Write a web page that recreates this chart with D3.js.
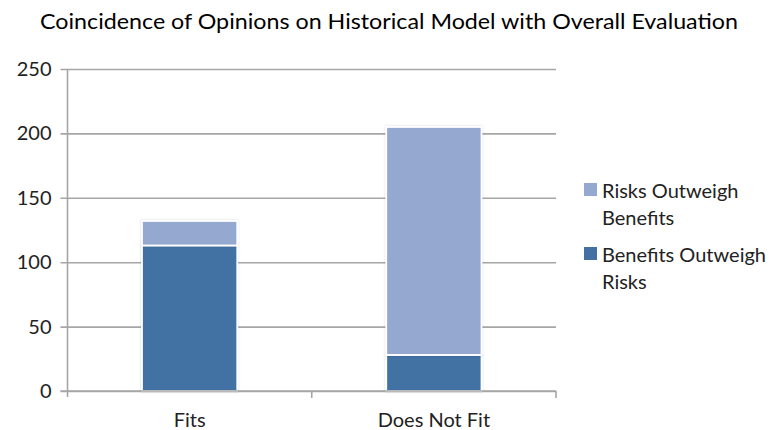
<!DOCTYPE html>
<html>
<head>
<meta charset="utf-8">
<script src="https://cdn.jsdelivr.net/npm/d3@7"></script>
<style>
  html, body { margin: 0; padding: 0; background: #fff; }
  svg { display: block; font-family: Lato, "Open Sans", sans-serif; }
</style>
</head>
<body>
<svg id="chart" width="781" height="430"></svg>
<script>
// Survey results: how opinions on the historical model line up with the overall evaluation
const categories = ["Fits", "Does Not Fit"];
const benefitsOutweighRisks = [113, 28];
const risksOutweighBenefits = [19, 177];
const seriesNames = ["Benefits Outweigh Risks", "Risks Outweigh Benefits"];
const yTicks = [0, 50, 100, 150, 200, 250];
const title = "Coincidence of Opinions on Historical Model with Overall Evaluation";

const colors = { "Benefits Outweigh Risks": "#4371a4", "Risks Outweigh Benefits": "#94a8d0" };

const svg = d3.select("#chart");
const margin = { left: 67.5, right: 225, top: 69, bottom: 39 };
const W = 781, H = 430;

const x = d3.scaleBand().domain(categories).range([margin.left, W - margin.right])
  .paddingInner(0.61).paddingOuter(0.305);
const y = d3.scaleLinear().domain([0, 250]).range([H - margin.bottom, margin.top]);

const rows = categories.map((c, i) => ({
  category: c,
  "Benefits Outweigh Risks": benefitsOutweighRisks[i],
  "Risks Outweigh Benefits": risksOutweighBenefits[i]
}));
const stacked = d3.stack().keys(seriesNames)(rows);

// Shadow filter under the bars
const defs = svg.append("defs");
const f = defs.append("filter").attr("id", "shadow").attr("x", "-10%").attr("y", "-10%").attr("width", "120%").attr("height", "120%");
f.append("feDropShadow").attr("dx", 0).attr("dy", 0).attr("stdDeviation", 1.2)
  .attr("flood-color", "#000").attr("flood-opacity", 0.18);

// Title
svg.append("text")
  .attr("x", 389).attr("y", 29)
  .attr("text-anchor", "middle")
  .attr("font-size", 21.5)
  .attr("fill", "#000")
  .attr("textLength", 698).attr("lengthAdjust", "spacingAndGlyphs")
  .text(title);

// Horizontal gridlines
const yAxis = d3.axisLeft(y).tickValues(yTicks).tickSize(-(W - margin.right - margin.left)).tickPadding(16);
const gy = svg.append("g").attr("transform", `translate(${margin.left},0)`).call(yAxis);
gy.select(".domain").remove();
gy.selectAll(".tick line").attr("stroke", "#a6a6a6").attr("stroke-width", 1.6).attr("x1", -7);
gy.selectAll(".tick text").attr("font-size", 20).attr("fill", "#222").attr("font-family", "Lato, sans-serif");

// Vertical axis line
svg.append("line")
  .attr("x1", margin.left).attr("x2", margin.left)
  .attr("y1", y(250)).attr("y2", y(0) + 6)
  .attr("stroke", "#a6a6a6").attr("stroke-width", 1.6);

// Stacked bars
const layers = svg.append("g").selectAll("g").data(stacked).join("g")
  .attr("fill", d => colors[d.key]);
layers.selectAll("rect").data(d => d).join("rect")
  .attr("x", d => x(d.data.category))
  .attr("width", x.bandwidth())
  .attr("y", d => y(d[1]))
  .attr("height", d => y(d[0]) - y(d[1]))
  .attr("stroke", "#fff").attr("stroke-width", 1.8)
  .attr("filter", "url(#shadow)");

// Category axis
const xAxisG = svg.append("g").attr("transform", `translate(0,${y(0)})`);
xAxisG.append("line")
  .attr("x1", margin.left - 7).attr("x2", W - margin.right)
  .attr("stroke", "#a6a6a6").attr("stroke-width", 1.6);
const bounds = [x.range()[0], x(categories[1]) - x.step() * x.paddingInner() / 2, x.range()[1]];
xAxisG.selectAll("line.sep").data(bounds.slice(1)).join("line").attr("class", "sep")
  .attr("x1", d => d).attr("x2", d => d).attr("y1", 0).attr("y2", 7)
  .attr("stroke", "#a6a6a6").attr("stroke-width", 1.6);
xAxisG.selectAll("text").data(categories).join("text")
  .attr("x", d => x(d) + x.bandwidth() / 2)
  .attr("y", 36)
  .attr("text-anchor", "middle")
  .attr("font-size", 20).attr("fill", "#222")
  .text(d => d);

// Legend
const legendItems = [
  { key: "Risks Outweigh Benefits", lines: ["Risks Outweigh", "Benefits"] },
  { key: "Benefits Outweigh Risks", lines: ["Benefits Outweigh", "Risks"] }
];
const lg = svg.append("g").attr("transform", "translate(584,183)");
legendItems.forEach((it, i) => {
  const g = lg.append("g").attr("transform", `translate(0,${i * 64})`);
  g.append("rect").attr("width", 13).attr("height", 13).attr("fill", colors[it.key]);
  const t = g.append("text").attr("x", 18).attr("y", 14.5).attr("font-size", 20).attr("fill", "#222");
  it.lines.forEach((ln, j) => t.append("tspan").attr("x", 18).attr("dy", j === 0 ? 0 : 27).text(ln));
});
</script>
</body>
</html>
